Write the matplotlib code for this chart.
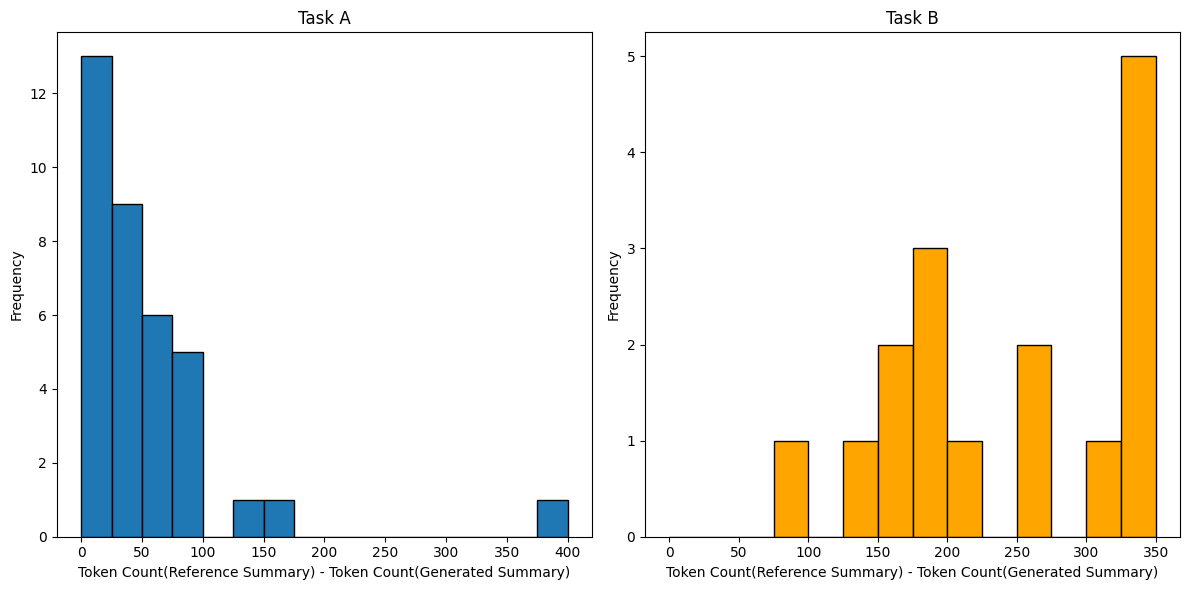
import numpy as np
import matplotlib.pyplot as plt

# Histogram bins (token count difference) and counts
bins_a = np.arange(0, 401, 25)
counts_a = [13, 9, 6, 5, 0, 1, 1, 0, 0, 0, 0, 0, 0, 0, 0, 1]

bins_b = np.arange(0, 351, 25)
counts_b = [0, 0, 0, 1, 0, 1, 2, 3, 1, 0, 2, 0, 1, 5]

xlabel = 'Token Count(Reference Summary) - Token Count(Generated Summary)'

fig, axes = plt.subplots(1, 2, figsize=(12, 6))

centers_a = (bins_a[:-1] + bins_a[1:]) / 2
axes[0].hist(centers_a, bins=bins_a, weights=counts_a, edgecolor='black')
axes[0].set_title('Task A')
axes[0].set_xlabel(xlabel)
axes[0].set_ylabel('Frequency')

centers_b = (bins_b[:-1] + bins_b[1:]) / 2
axes[1].hist(centers_b, bins=bins_b, weights=counts_b, color='orange', edgecolor='black')
axes[1].set_title('Task B')
axes[1].set_xlabel(xlabel)
axes[1].set_ylabel('Frequency')

plt.tight_layout()
plt.savefig('out.png', dpi=100, bbox_inches='tight')
